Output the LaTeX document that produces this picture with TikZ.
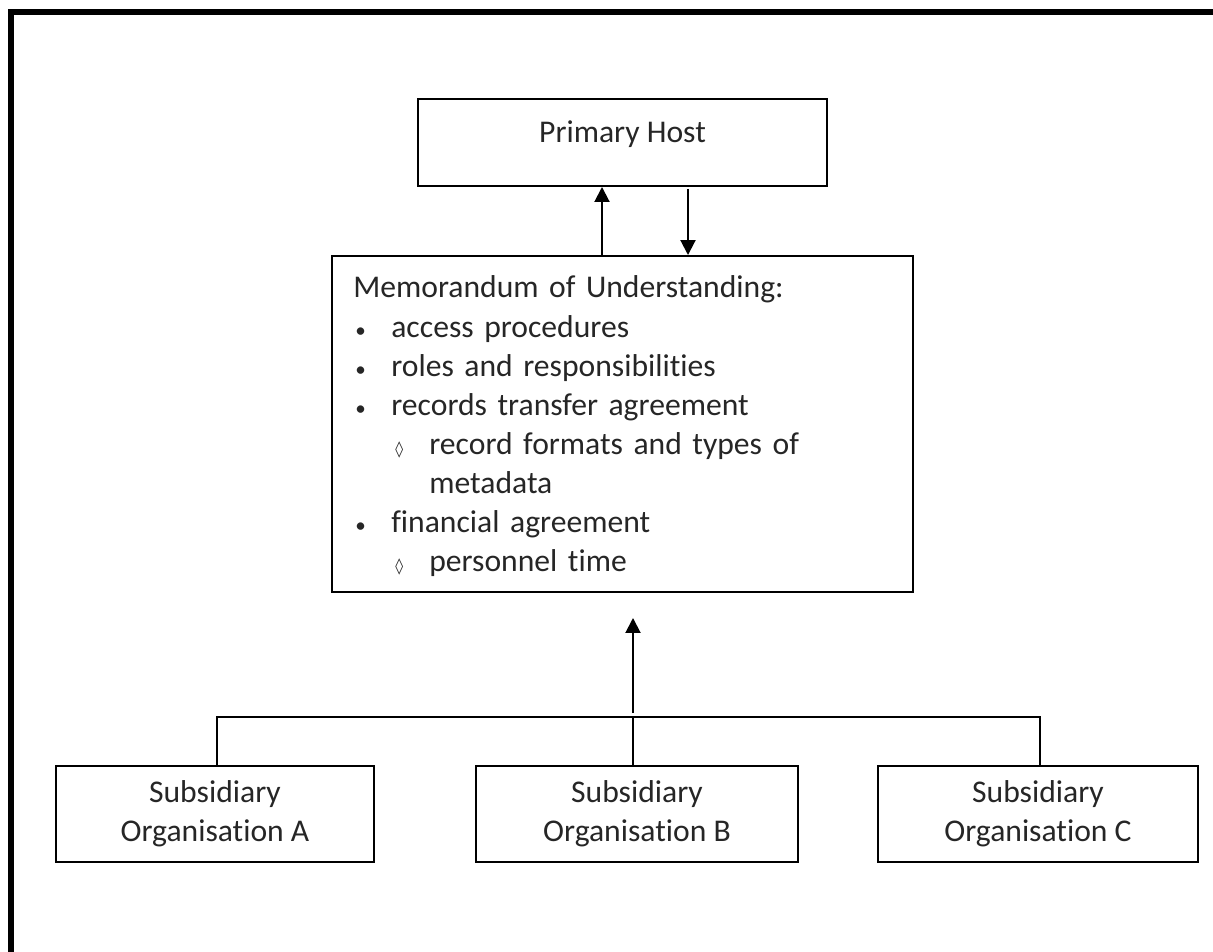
\documentclass[tikz,border=0pt]{standalone}
\usepackage{fontspec}
\setmainfont{Carlito}[Ligatures=NoCommon]
\newfontfamily\symfont{DejaVu Sans}
\usetikzlibrary{arrows.meta}

\newcommand{\mouitem}[1]{\hspace*{0.04cm}\makebox[0.72cm][l]{\fontsize{12}{12}\selectfont\textbullet}#1}
\newcommand{\mousubitem}[1]{\hspace*{0.84cm}\makebox[0.68cm][l]{\symfont\fontsize{9}{9}\selectfont ◊}#1}

\begin{document}
\begin{tikzpicture}[
    x=0.02cm,
    y=-0.02cm,
    font=\fontsize{18}{22.2}\selectfont,
    >={Triangle[length=0.3cm,width=0.3cm]},
    box/.style={
        draw,
        line width=0.04cm,
        text=black!85,
        inner sep=0pt
    },
    arrow/.style={
        ->,
        line width=0.04cm
    },
    link/.style={
        line width=0.04cm
    },
    frame/.style={
        line width=0.12cm
    }
]

\useasboundingbox (0,0) rectangle (1213,952);

% Outer frame (top and left only)
\draw[
    frame
] (11,952) -- (11,12) -- (1213,12);

% Primary host
\node[
    box,
    minimum width=8.18cm,
    minimum height=1.74cm,
    text height=0.3cm,
    text depth=0.3cm
] (host) at (622.5,142.5) {
    Primary Host
};

% Memorandum of Understanding
\node[
    box,
    minimum width=11.62cm,
    minimum height=6.72cm
] (mou) at (622.5,424) {};

\node[
    anchor=base west,
    text width=11cm,
    align=left,
    inner sep=0pt,
    text=black!85
] (moulist) at (353,298) {
    Memorandum of Understanding:\\
    \mouitem{access procedures}\\
    \mouitem{roles and responsibilities}\\
    \mouitem{records transfer agreement}\\
    \mousubitem{record formats and types of}\\
    \hspace*{1.52cm}metadata\\
    \mouitem{financial agreement}\\
    \mousubitem{personnel time}
};

% Subsidiary organisations
\node[
    box,
    minimum width=6.36cm,
    minimum height=1.92cm,
    align=center
] (subA) at (215,814) {
    Subsidiary\\
    Organisation A
};

\node[
    box,
    minimum width=6.44cm,
    minimum height=1.92cm,
    align=center
] (subB) at (637,814) {
    Subsidiary\\
    Organisation B
};

\node[
    box,
    minimum width=6.4cm,
    minimum height=1.92cm,
    align=center
] (subC) at (1038,814) {
    Subsidiary\\
    Organisation C
};

% Arrows between host and MoU
\coordinate (up) at (602,0);
\coordinate (down) at (688,189);

\draw[
    arrow
] (mou.north -| up) -- (host.south -| up);

\draw[
    arrow
] (down) -- (mou.north -| down);

% Bus from subsidiaries to MoU
\coordinate (busA) at (217,717);
\coordinate (busB) at (633,717);
\coordinate (busC) at (1040,717);
\coordinate (busTop) at (633,713);
\coordinate (tip) at (633,618);

\draw[
    link
] (subA.north -| busA) -- (busA) -- (busC) -- (subC.north -| busC);

\draw[
    link
] (busB) -- (subB.north -| busB);

\draw[
    arrow
] (busTop) -- (tip);

\end{tikzpicture}
\end{document}
